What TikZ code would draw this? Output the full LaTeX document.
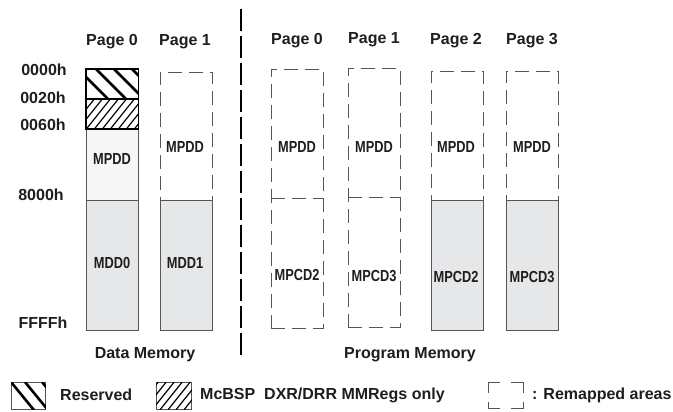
\documentclass[tikz,border=0pt]{standalone}
\usepackage{fontspec}
\setmainfont{Liberation Sans}
\newfontfamily\narrowfont[FakeStretch=0.8]{Liberation Sans}
\usetikzlibrary{positioning}
\definecolor{mgray}{RGB}{230,231,232}
\definecolor{mlight}{RGB}{246,246,246}
\definecolor{medge}{RGB}{85,85,85}
\definecolor{ink}{RGB}{30,30,30}

\begin{document}
\begin{tikzpicture}[x=1pt,y=-1pt,
  lbl/.style={font=\bfseries\fontsize{16}{19}\selectfont,text=ink,inner sep=0},
  cell/.style={font=\narrowfont\bfseries\fontsize{16}{19}\selectfont,text=ink,inner sep=0},
  blk/.style={draw=medge,line width=0.9pt,fill=mgray,minimum width=52pt,inner sep=0,anchor=north west},
  remapline/.style={draw=medge,line width=0.9pt,dash pattern=on 14pt off 7pt},
  remap/.style={remapline,minimum width=52pt,inner sep=0,anchor=north west},
  hatchbox/.style={minimum width=52pt,inner sep=0,anchor=north west},
  keyline/.style={draw=medge,line width=0.9pt}]
  \useasboundingbox (0,0) rectangle (673,412);

  % data memory columns
  \node[hatchbox,minimum height=30pt] (rsv) at (86,69) {};
  \node[hatchbox,minimum height=30pt] (mcb) at (86,99) {};
  \node[blk,fill=mlight,minimum height=71pt] (d0top) at (86,129) {};
  \node[blk,minimum height=130pt] (d0bot) at (86,200) {};
  \node[remap,minimum height=128pt] (d1top) at (160,72) {};
  \node[blk,minimum height=130pt] (d1bot) at (160,200) {};

  \begin{scope}
    \clip (rsv.north west) rectangle (rsv.south east);
    \foreach \i in {-8,10,28,46} \draw[line width=2.6pt] ([xshift=\i pt]rsv.north west) -- ++(35,35);
  \end{scope}
  \begin{scope}
    \clip (mcb.north west) rectangle (mcb.south east);
    \foreach \i in {-24,-16,...,56} \draw[line width=1.2pt] ([xshift=\i pt]mcb.south west) -- ++(24,-30);
  \end{scope}
  \draw[line width=1.8pt] (rsv.north west) rectangle (mcb.south east);
  \draw[line width=1.8pt] (rsv.south west) -- (rsv.south east);

  % program memory columns
  \node[remap,minimum height=259pt] (p0) at (271,69) {};
  \draw[remapline] ([yshift=-129pt]p0.north west) -- ([yshift=-129pt]p0.north east);
  \node[remap,minimum height=259pt] (p1) at (348,68) {};
  \draw[remapline] ([yshift=-129pt]p1.north west) -- ([yshift=-129pt]p1.north east);
  \node[remap,minimum height=129pt] (p2top) at (431,71) {};
  \node[blk,minimum height=130pt] (p2bot) at (431,200) {};
  \node[remap,minimum height=129pt] (p3top) at (506,71) {};
  \node[blk,minimum height=130pt] (p3bot) at (506,200) {};

  % page titles
  \node[lbl] (dpg0) at (112,42) {Page 0};
  \node[lbl] (dpg1) at (185,42) {Page 1};
  \node[lbl] (ppg0) at (297,41) {Page 0};
  \node[lbl] (ppg1) at (374,40) {Page 1};
  \node[lbl] (ppg2) at (456,41) {Page 2};
  \node[lbl] (ppg3) at (532,41) {Page 3};

  % addresses
  \node[lbl] (a0000) at (44,70) {0000h};
  \node[lbl] (a0020) at (43,98) {0020h};
  \node[lbl] (a0060) at (43,125) {0060h};
  \node[lbl] (a8000) at (41,195) {8000h};
  \node[lbl] (affff) at (43,323) {FFFFh};

  % cell texts
  \node[cell] (d0mpdd) at (112,159) {MPDD};
  \node[cell] (d1mpdd) at (185,147) {MPDD};
  \node[cell] (d0mdd) at (112,263) {MDD0};
  \node[cell] (d1mdd) at (185,263) {MDD1};
  \node[cell] (p0mpdd) at (297,147) {MPDD};
  \node[cell] (p1mpdd) at (374,147) {MPDD};
  \node[cell] (p2mpdd) at (456,147) {MPDD};
  \node[cell] (p3mpdd) at (532,147) {MPDD};
  \node[cell] (p0mpcd) at (297,275) {MPCD2};
  \node[cell] (p1mpcd) at (374,276) {MPCD3};
  \node[cell] (p2mpcd) at (456,277) {MPCD2};
  \node[cell] (p3mpcd) at (532,277) {MPCD3};

  \node[lbl] (datamem) at (145,355) {Data Memory};
  \node[lbl] (progmem) at (410,355) {Program Memory};

  % divider
  \coordinate (divtop) at (241,9);
  \coordinate (divbot) at (241,356);
  \draw[line width=2.6pt,dash pattern=on 22pt off 5pt] (divtop) -- (divbot);

  % key
  \node[hatchbox,minimum width=34pt,minimum height=27pt,draw=medge,line width=0.8pt] (keyrsv) at (11,382) {};
  \begin{scope}
    \clip (keyrsv.north west) rectangle (keyrsv.south east);
    \foreach \i in {0,14,31} \draw[line width=2.6pt] ([xshift=\i pt]keyrsv.north west) -- ++(27,33);
  \end{scope}
  \node[lbl,anchor=west] (keyrsvl) at (60,395) {Reserved};

  \node[hatchbox,minimum width=35pt,minimum height=27pt,draw=medge,line width=0.8pt] (keymcb) at (156,382) {};
  \begin{scope}
    \clip (keymcb.north west) rectangle (keymcb.south east);
    \foreach \i in {-20,-12,...,36} \draw[line width=1.2pt] ([xshift=\i pt]keymcb.south west) -- ++(24,-30);
  \end{scope}
  \node[lbl,anchor=west] (keymcbl) at (200,395) {McBSP\ \ DXR/DRR MMRegs only};

  \node[hatchbox,minimum width=35pt,minimum height=26pt] (keyrmp) at (488,382) {};
  \draw[keyline] ([yshift=-11pt]keyrmp.north west) |- ([xshift=12pt]keyrmp.north west);
  \draw[keyline] ([yshift=-11pt]keyrmp.north east) |- ([xshift=-12pt]keyrmp.north east);
  \draw[keyline] ([yshift=6pt]keyrmp.south west) |- ([xshift=12pt]keyrmp.south west);
  \draw[keyline] ([yshift=6pt]keyrmp.south east) |- ([xshift=-12pt]keyrmp.south east);
  \node[lbl,anchor=west] (keyrmpl) at (532,395) {: Remapped areas};
\end{tikzpicture}
\end{document}
